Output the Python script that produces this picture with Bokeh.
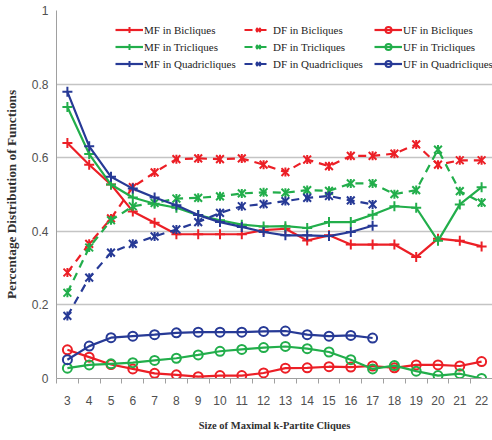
import math
from bokeh.plotting import figure
from bokeh.models import Range1d, FixedTicker, Legend, LegendItem
from bokeh.embed import file_html
from bokeh.resources import INLINE

sizes = [3, 4, 5, 6, 7, 8, 9, 10, 11, 12, 13, 14, 15, 16, 17, 18, 19, 20, 21, 22]
sizes_quad = [3, 4, 5, 6, 7, 8, 9, 10, 11, 12, 13, 14, 15, 16, 17]

mf_bi = [0.640, 0.581, 0.527, 0.454, 0.423, 0.392, 0.392, 0.392, 0.392, 0.403,
         0.407, 0.375, 0.389, 0.364, 0.364, 0.364, 0.330, 0.380, 0.374, 0.359]
df_bi = [0.288, 0.366, 0.435, 0.520, 0.560, 0.596, 0.598, 0.596, 0.598, 0.581,
         0.561, 0.595, 0.577, 0.605, 0.605, 0.611, 0.636, 0.581, 0.593, 0.593]
uf_bi = [0.078, 0.058, 0.038, 0.026, 0.014, 0.010, 0.005, 0.008, 0.008, 0.015,
         0.028, 0.029, 0.032, 0.031, 0.034, 0.029, 0.037, 0.037, 0.034, 0.046]
mf_tri = [0.738, 0.610, 0.527, 0.492, 0.475, 0.464, 0.444, 0.430, 0.418, 0.413,
          0.414, 0.409, 0.425, 0.425, 0.445, 0.468, 0.464, 0.374, 0.473, 0.520]
df_tri = [0.233, 0.356, 0.430, 0.468, 0.477, 0.489, 0.491, 0.495, 0.503, 0.506,
          0.505, 0.512, 0.510, 0.530, 0.530, 0.501, 0.512, 0.622, 0.509, 0.478]
uf_tri = [0.028, 0.037, 0.040, 0.043, 0.049, 0.055, 0.064, 0.074, 0.079, 0.084,
          0.087, 0.081, 0.072, 0.051, 0.026, 0.035, 0.020, 0.008, 0.013, 0.000]
mf_quad = [0.779, 0.631, 0.548, 0.516, 0.492, 0.471, 0.444, 0.425, 0.412, 0.398,
           0.389, 0.389, 0.387, 0.398, 0.415]
df_quad = [0.170, 0.274, 0.342, 0.366, 0.386, 0.405, 0.425, 0.450, 0.468, 0.474,
           0.482, 0.491, 0.496, 0.484, 0.473]
uf_quad = [0.051, 0.088, 0.111, 0.115, 0.119, 0.124, 0.126, 0.126, 0.126, 0.128,
           0.129, 0.119, 0.115, 0.117, 0.110]

y_ticks = [0, 0.2, 0.4, 0.6, 0.8, 1]
y_tick_labels = ["0", "0.2", "0.4", "0.6", "0.8", "1"]

RED = "#EC1F26"
GREEN = "#22AE4B"
BLUE = "#273A96"

p = figure(width=492, height=440, output_backend="svg", toolbar_location=None,
           x_range=Range1d(2.5, 22.5), y_range=Range1d(0, 1),
           min_border_left=53, min_border_right=0, min_border_top=10, min_border_bottom=62)
p.outline_line_color = None
p.background_fill_color = "white"

# x axis
p.xaxis.ticker = FixedTicker(ticks=sizes, minor_ticks=[s - 0.5 for s in sizes] + [22.5])
p.xaxis.major_tick_out = 0
p.xaxis.major_tick_in = 0
p.xaxis.minor_tick_out = 5
p.xaxis.minor_tick_in = 0
p.xaxis.minor_tick_line_color = "#A0A0A0"
p.xaxis.axis_line_color = "#A0A0A0"
p.xaxis.major_label_standoff = 12
p.xaxis.axis_label = "Size of Maximal k-Partite Cliques"
p.xaxis.axis_label_standoff = 12
p.xaxis.axis_label_text_font_size = "10.5px"
p.xgrid.grid_line_color = None

# y axis
p.yaxis.ticker = FixedTicker(ticks=y_ticks)
p.yaxis.major_label_overrides = {t: l for t, l in zip(y_ticks, y_tick_labels)}
p.yaxis.major_tick_out = 0
p.yaxis.major_tick_in = 0
p.yaxis.minor_tick_line_color = None
p.yaxis.axis_line_color = "#A0A0A0"
p.yaxis.major_label_standoff = 8
p.yaxis.axis_label = "Percentage Distribution of Functions"
p.yaxis.axis_label_standoff = 10
p.yaxis.axis_label_text_font_size = "13.3px"
p.ygrid.grid_line_color = "#C4C4C4"
p.ygrid.grid_line_width = 1.3

for ax in (p.xaxis, p.yaxis):
    ax.major_label_text_font = "Liberation Sans Narrow, Arial Narrow, sans-serif"
    ax.major_label_text_font_size = "12px"
    ax.major_label_text_color = "#505050"
    ax.axis_label_text_font = "Liberation Serif"
    ax.axis_label_text_font_style = "bold"
    ax.axis_label_text_color = "#303030"

series = [
    ("MF in Bicliques", sizes, mf_bi, RED, "solid", "cross"),
    ("DF in Bicliques", sizes, df_bi, RED, "8 6", "star"),
    ("UF in Bicliques", sizes, uf_bi, RED, "solid", "circle"),
    ("MF in Tricliques", sizes, mf_tri, GREEN, "solid", "cross"),
    ("DF in Tricliques", sizes, df_tri, GREEN, "8 6", "star"),
    ("UF in Tricliques", sizes, uf_tri, GREEN, "solid", "circle"),
    ("MF in Quadricliques", sizes_quad, mf_quad, BLUE, "solid", "cross"),
    ("DF in Quadricliques", sizes_quad, df_quad, BLUE, "8 6", "star"),
    ("UF in Quadricliques", sizes_quad, uf_quad, BLUE, "solid", "circle"),
]

items = []
for label, xs, ys, color, dash, marker in series:
    lr = p.line(xs, ys, line_color=color, line_width=2.2, line_dash=dash)
    rends = [lr]
    if marker == "star":
        # Excel-style star: an "x" with a vertical bar
        rends.append(p.scatter(xs, ys, marker="x", size=11, line_color=color, line_width=2))
        rends.append(p.scatter(xs, ys, marker="dash", size=9, angle=math.pi / 2,
                               line_color=color, line_width=2))
    elif marker == "cross":
        rends.append(p.scatter(xs, ys, marker="cross", size=10, line_color=color, line_width=2))
    else:
        rends.append(p.scatter(xs, ys, marker="circle", size=9, line_color=color,
                               line_width=2, fill_alpha=0))
    items.append(LegendItem(label=label, renderers=rends))

# three legend columns: MF, DF, UF
col_x = [59, 188, 318]
for c in range(3):
    col_items = [items[r * 3 + c] for r in range(3)]
    leg = Legend(items=col_items, location=(col_x[c], 307), orientation="vertical",
                 glyph_width=28, glyph_height=15, label_height=15, spacing=2,
                 padding=0, margin=0, label_standoff=1,
                 border_line_color=None, background_fill_alpha=0,
                 label_text_font="Liberation Serif", label_text_font_size="11px",
                 label_text_color="#222222")
    p.add_layout(leg, "center")

open("out.html", "w").write(file_html(p, INLINE))
